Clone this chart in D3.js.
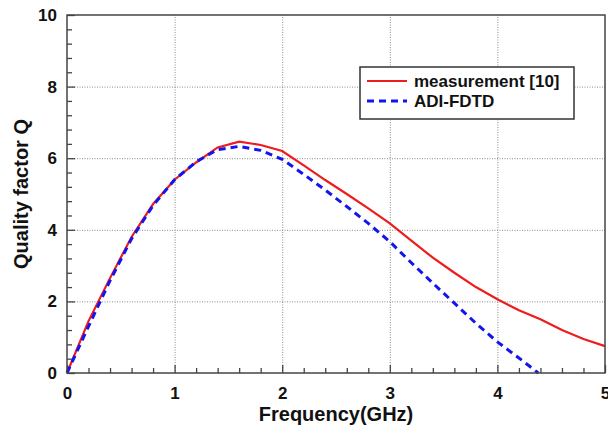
<!DOCTYPE html>
<head>
  <meta charset="utf-8">
  <script src="https://d3js.org/d3.v7.min.js"></script>
  <style>
    body { margin: 0; background: #fff; }
    text { font-family: "Liberation Sans", Arial, sans-serif; font-weight: bold; fill: #111; }
    .grid line { stroke: #8a8a8a; stroke-width: 1; stroke-dasharray: 1,1.5; }
    .grid path { display: none; }
    .axis path { display: none; }
    .axis line { stroke: #444; stroke-width: 1.3; }
  </style>
</head>
<body>
  <div id="graph"></div>
  <script>
    // data
    var measFreq = [0, 0.2, 0.4, 0.6, 0.8, 1.0, 1.2, 1.4, 1.6, 1.8, 2.0, 2.2, 2.4, 2.6, 2.8, 3.0, 3.2, 3.4, 3.6, 3.8, 4.0, 4.2, 4.4, 4.6, 4.8, 5.0];
    var measQ    = [0, 1.45, 2.65, 3.8, 4.72, 5.4, 5.88, 6.3, 6.46, 6.37, 6.2, 5.8, 5.39, 5.0, 4.6, 4.18, 3.7, 3.22, 2.8, 2.4, 2.06, 1.75, 1.5, 1.2, 0.95, 0.75];
    var adiFreq  = [0, 0.2, 0.4, 0.6, 0.8, 1.0, 1.2, 1.4, 1.6, 1.8, 2.0, 2.2, 2.4, 2.6, 2.8, 3.0, 3.2, 3.4, 3.6, 3.8, 4.0, 4.2, 4.38];
    var adiQ     = [0, 1.3, 2.58, 3.75, 4.68, 5.4, 5.9, 6.24, 6.33, 6.22, 5.97, 5.55, 5.11, 4.65, 4.18, 3.67, 3.08, 2.51, 1.95, 1.39, 0.87, 0.42, 0];
    var xMajor = [0, 1, 2, 3, 4, 5];
    var yMajor = [0, 2, 4, 6, 8, 10];
    var xMinor = [0.2, 0.4, 0.6, 0.8, 1.2, 1.4, 1.6, 1.8, 2.2, 2.4, 2.6, 2.8, 3.2, 3.4, 3.6, 3.8, 4.2, 4.4, 4.6, 4.8];
    var yMinor = [0.4, 0.8, 1.2, 1.6, 2.4, 2.8, 3.2, 3.6, 4.4, 4.8, 5.2, 5.6, 6.4, 6.8, 7.2, 7.6, 8.4, 8.8, 9.2, 9.6];
    var seriesNames = ["measurement [10]", "ADI-FDTD"];

    var width = 608, height = 434;
    var mLeft = 67, mRight = 605, mTop = 15, mBottom = 373;

    var svg = d3.select("#graph").append("svg")
      .attr("width", width)
      .attr("height", height);

    var x = d3.scaleLinear().domain([0, 5]).range([mLeft, mRight]);
    var y = d3.scaleLinear().domain([0, 10]).range([mBottom, mTop]);

    // grid
    svg.append("g").attr("class", "grid")
      .attr("transform", "translate(0," + mBottom + ")")
      .call(d3.axisBottom(x).tickValues([1, 2, 3, 4]).tickSize(-(mBottom - mTop)).tickFormat(""));
    svg.append("g").attr("class", "grid")
      .attr("transform", "translate(" + mLeft + ",0)")
      .call(d3.axisLeft(y).tickValues([2, 4, 6, 8]).tickSize(-(mRight - mLeft)).tickFormat(""));

    // minor ticks (inside)
    svg.append("g").attr("class", "axis")
      .attr("transform", "translate(0," + mBottom + ")")
      .call(d3.axisBottom(x).tickValues(xMinor).tickSize(-5).tickFormat(""));
    svg.append("g").attr("class", "axis")
      .attr("transform", "translate(" + mLeft + ",0)")
      .call(d3.axisLeft(y).tickValues(yMinor).tickSize(-5).tickFormat(""));

    // major ticks + labels
    svg.append("g").attr("class", "axis")
      .attr("transform", "translate(0," + mBottom + ")")
      .call(d3.axisBottom(x).tickValues(xMajor).tickSize(-8).tickPadding(14).tickFormat(d3.format("d")));
    svg.append("g").attr("class", "axis")
      .attr("transform", "translate(" + mLeft + ",0)")
      .call(d3.axisLeft(y).tickValues(yMajor).tickSize(-8).tickPadding(10).tickFormat(d3.format("d")));
    svg.selectAll(".axis text")
      .attr("font-size", 17)
      .attr("font-family", "'Liberation Sans', Arial, sans-serif")
      .attr("font-weight", "bold")
      .attr("fill", "#111");

    // lines
    var line = d3.line()
      .x(d => x(d[0]))
      .y(d => y(d[1]));

    svg.append("path")
      .datum(measFreq.map((f, i) => [f, measQ[i]]))
      .attr("d", line)
      .attr("fill", "none")
      .attr("stroke", "#ee1c1c")
      .attr("stroke-width", 2.2);

    svg.append("path")
      .datum(adiFreq.map((f, i) => [f, adiQ[i]]))
      .attr("d", line)
      .attr("fill", "none")
      .attr("stroke", "#1414ee")
      .attr("stroke-width", 3)
      .attr("stroke-dasharray", "7,5");

    // frame
    svg.append("rect")
      .attr("x", mLeft).attr("y", mTop)
      .attr("width", mRight - mLeft).attr("height", mBottom - mTop)
      .attr("fill", "none")
      .attr("stroke", "#444")
      .attr("stroke-width", 1.5);

    // axis titles
    svg.append("text")
      .attr("x", (mLeft + mRight) / 2)
      .attr("y", 421)
      .attr("text-anchor", "middle")
      .attr("font-size", 20)
      .text("Frequency(GHz)");
    svg.append("text")
      .attr("transform", "translate(28," + (mTop + mBottom) / 2 + ") rotate(-90)")
      .attr("text-anchor", "middle")
      .attr("font-size", 20)
      .text("Quality factor Q");

    // legend
    var lg = svg.append("g");
    lg.append("rect")
      .attr("x", 360).attr("y", 67)
      .attr("width", 214).attr("height", 52)
      .attr("fill", "#fff")
      .attr("stroke", "#333")
      .attr("stroke-width", 1.5);
    var styles = [
      { color: "#ee1c1c", w: 2.2, dash: null },
      { color: "#1414ee", w: 3, dash: "7,5" }
    ];
    seriesNames.forEach(function(name, i) {
      var ly = 81 + i * 20;
      lg.append("line")
        .attr("x1", 367).attr("x2", 407)
        .attr("y1", ly).attr("y2", ly)
        .attr("stroke", styles[i].color)
        .attr("stroke-width", styles[i].w)
        .attr("stroke-dasharray", styles[i].dash);
      lg.append("text")
        .attr("x", 414).attr("y", ly)
        .attr("dy", "0.35em")
        .attr("font-size", 17)
        .text(name);
    });
  </script>
</body>
